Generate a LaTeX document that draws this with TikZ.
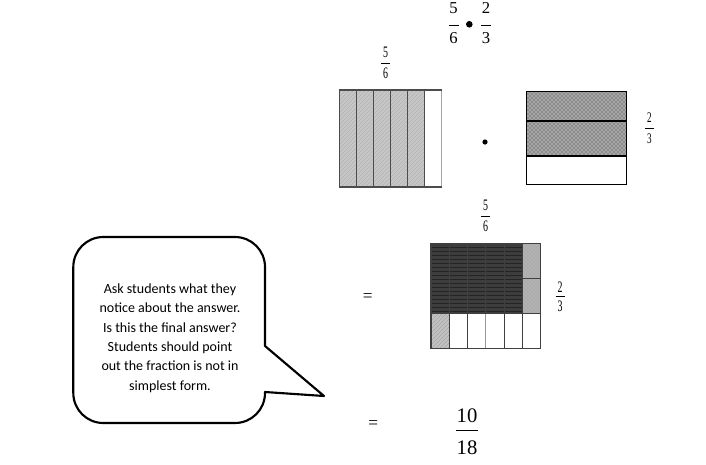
\documentclass[tikz,border=0pt]{standalone}
\usepackage{fontspec}
\setmainfont{Liberation Serif}
\newfontfamily\calib{Carlito}
\usetikzlibrary{patterns}
% #1 name, #2 x, #3 num y, #4 bar y, #5 den y, #6 half bar width, #7 num, #8 den, #9 font
\newcommand\frc[9]{%
  \node[font=#9,inner sep=0pt] (#1n) at (#2,#3) {#7};
  \node[font=#9,inner sep=0pt] (#1d) at (#2,#5) {#8};
  \draw[line width=0.6pt] ({#2-#6},#4) -- ({#2+#6},#4);
}
\newcommand\sq[1]{\scalebox{0.62}[1]{#1}}
\begin{document}
\begin{tikzpicture}[x=0.75pt,y=-0.75pt]
\useasboundingbox (0,0) rectangle (706,464);
\fill[white] (0,0) rectangle (706,464);

% ---------- top expression
\frc{ta}{453.5}{8}{25}{38.5}{5}{5}{6}{\fontsize{12.5}{13}\selectfont}
\fill (469.3,24.3) circle (3.3);
\frc{tb}{486}{8}{25}{38.5}{5}{2}{3}{\fontsize{12.5}{13}\selectfont}

% ---------- left rectangle 5/6
\frc{la}{385.7}{52.3}{63.3}{73.5}{4.5}{\sq{5}}{\sq{6}}{\fontsize{12}{12}\selectfont}
\fill[black!22] (339.5,90) rectangle (424.5,187);
\fill[pattern=north east lines,pattern color=black!30] (339.5,90) rectangle (424.5,187);
\draw[black!35,line width=0.9pt] (441.5,90) -- (441.5,187);
\draw[black!70,line width=0.9pt] (441.5,90) -- (339.5,90) -- (339.5,187) -- (441.5,187);
\foreach \x in {356.5,373.5,390.5,407.5,424.5}
  \draw[black!70,line width=0.9pt] (\x,90) -- (\x,187);

% ---------- dot
\fill (485,142) circle (2.6);

% ---------- right rectangle 2/3
\fill[black!45] (526.7,91.7) rectangle (626.7,156);
\fill[pattern=crosshatch dots,pattern color=white] (526.7,91.7) rectangle (626.7,156);
\draw[black,line width=0.9pt] (526.7,91.7) rectangle (626.7,184.3);
\draw[black,line width=0.9pt] (526.7,121) -- (626.7,121);
\draw[black,line width=0.9pt] (526.7,156) -- (626.7,156);
\frc{ra}{649.5}{117.5}{128.3}{139}{4.5}{\sq{2}}{\sq{3}}{\fontsize{11}{11}\selectfont}

% ---------- bottom grid
\frc{ga}{485.7}{205}{216.7}{226.7}{4.5}{\sq{5}}{\sq{6}}{\fontsize{12}{12}\selectfont}
\frc{gb}{560}{286.7}{296.7}{306.7}{4.5}{\sq{2}}{\sq{3}}{\fontsize{12}{12}\selectfont}
\fill[black!76] (431,243.3) rectangle (522.4,313.3);
\fill[pattern=horizontal lines,pattern color=black!86] (431,243.3) rectangle (522.4,313.3);
\fill[black!30] (522.4,243.3) rectangle (540.7,313.3);
\fill[pattern=crosshatch dots,pattern color=black!40] (522.4,243.3) rectangle (540.7,313.3);
\fill[black!24] (431,313.3) rectangle (449.3,348.3);
\fill[pattern=north east lines,pattern color=black!35] (431,313.3) rectangle (449.3,348.3);
\foreach \x in {449.3,467.6,504.1,522.4}
  \draw[black!75,line width=0.7pt] (\x,243.3) -- (\x,348.3);
\draw[black!75,line width=0.7pt] (485.8,243.3) -- (485.8,313.3);
\draw[black!40,line width=0.7pt] (485.8,313.3) -- (485.8,348.3);
\draw[black!75,line width=0.7pt] (431,278.3) -- (540.7,278.3);
\draw[black!75,line width=0.7pt] (431,313.3) -- (540.7,313.3);
\draw[black!75,line width=0.9pt] (431,243.3) rectangle (540.7,348.3);

% ---------- equals signs and result
\node[font=\fontsize{13}{13}\selectfont,inner sep=0pt] (eq1) at (367.7,298) {=};
\node[font=\fontsize{13}{13}\selectfont,inner sep=0pt] (eq2) at (373.3,425) {=};
\frc{res}{467}{415.3}{430}{447.5}{11}{10}{18}{\fontsize{15.5}{16}\selectfont}

% ---------- callout
\draw[line width=1.6pt,line join=round]
  (265,346) -- (265,267) .. controls (265,250.4) and (251.6,237) .. (235,237)
  -- (103.3,237) .. controls (86.7,237) and (73.3,250.4) .. (73.3,267)
  -- (73.3,393) .. controls (73.3,409.6) and (86.7,423) .. (103.3,423)
  -- (235,423) .. controls (251.6,423) and (265,409.6) .. (265,393)
  -- (265,392) -- (324,396) -- cycle;
\node[font=\calib\fontsize{10.5}{14.5}\selectfont,align=center,inner sep=0pt] (note) at (170,338)
  {Ask students what they\\notice about the answer.\\Is this the final answer?\\Students should point\\out the fraction is not in\\simplest form.};
\end{tikzpicture}
\end{document}
